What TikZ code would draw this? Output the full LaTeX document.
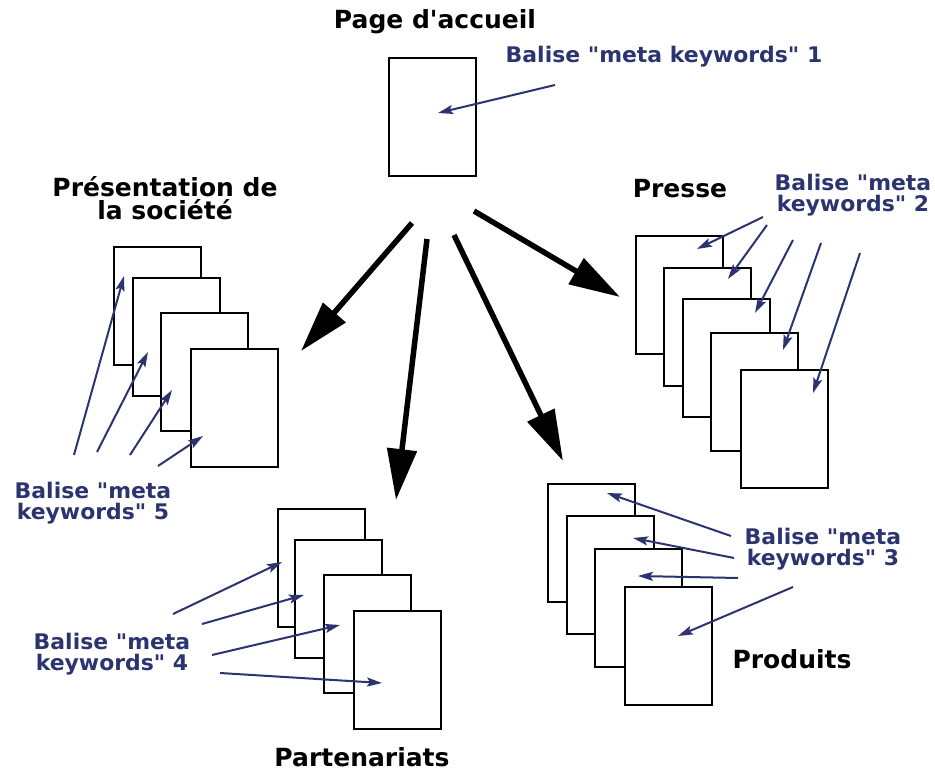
\documentclass[tikz,border=0pt]{standalone}
\usepackage{fontspec}
\setmainfont{DejaVu Sans}
\newfontfamily\titlefont{DejaVu Sans}
\newfontfamily\tagfont{DejaVu Sans}[FakeStretch=1.02]
\usetikzlibrary{arrows.meta}
\definecolor{tagblue}{RGB}{44,52,112}

\tikzset{
  page/.style={draw=black, fill=white, line width=1.8pt, minimum width=87pt,
    minimum height=118pt, inner sep=0pt, anchor=north west},
  heading/.style={font=\titlefont\bfseries\fontsize{25}{23.5}\selectfont,
    text=black, align=center, inner sep=0pt},
  tagtext/.style={font=\tagfont\bfseries\fontsize{21.5}{20.5}\selectfont,
    text=tagblue, align=center, inner sep=0pt},
  bigarrow/.style={line width=5.5pt, -{Triangle[length=51pt,width=29pt]}},
  tagarrow/.style={draw=tagblue, line width=2pt,
    -{Stealth[length=15pt,width=9pt,inset=3pt]}}
}

\begin{document}
\begin{tikzpicture}[x=1pt,y=-1pt]
\useasboundingbox[fill=white] (0,0) rectangle (935,773);

% home page
\node[heading] (homeTitle) at (435,22) {Page d'accueil};
\node[page] (home) at (388,57) {};
\node[tagtext] (tag1) at (664,57) {Balise "meta keywords" 1};

% company presentation
\node[heading] (socTitle) at (165,198) {Présentation de\\la société};
\node[page] (soc1) at (113,246) {};
\node[page] (soc2) at (132,277) {};
\node[page] (soc3) at (160,312) {};
\node[page] (soc4) at (190,348) {};
\node[tagtext] (tag5) at (93,503) {Balise "meta\\keywords" 5};

% press
\node[heading] (pressTitle) at (680,189) {Presse};
\node[page] (press1) at (635,235) {};
\node[page] (press2) at (663,267) {};
\node[page] (press3) at (682,298) {};
\node[page] (press4) at (710,332) {};
\node[page] (press5) at (740,369) {};
\node[tagtext] (tag2) at (853,195) {Balise "meta\\keywords" 2};

% partnerships
\node[page] (part1) at (277,508) {};
\node[page] (part2) at (294,539) {};
\node[page] (part3) at (323,574) {};
\node[page] (part4) at (353,610) {};
\node[heading] (partTitle) at (362,757) {Partenariats};
\node[tagtext] (tag4) at (112,654) {Balise "meta\\keywords" 4};

% products
\node[page] (prod1) at (547,483) {};
\node[page] (prod2) at (566,515) {};
\node[page] (prod3) at (594,548) {};
\node[page] (prod4) at (624,586) {};
\node[heading] (prodTitle) at (792,659) {Produits};
\node[tagtext] (tag3) at (823,549) {Balise "meta\\keywords" 3};

% navigation from the home page
\coordinate (toSocS) at (412,223);  \coordinate (toSocE) at (301,351);
\coordinate (toPartS) at (427,239); \coordinate (toPartE) at (396,500);
\coordinate (toProdS) at (454,235); \coordinate (toProdE) at (563,461);
\coordinate (toPressS) at (474,211); \coordinate (toPressE) at (620,297);
\draw[bigarrow] (toSocS) -- (toSocE);
\draw[bigarrow] (toPartS) -- (toPartE);
\draw[bigarrow] (toProdS) -- (toProdE);
\draw[bigarrow] (toPressS) -- (toPressE);

% keyword tag arrows: start near the tag, end inside a page
\coordinate (h1S) at (555,85);  \coordinate (h1E) at (438,113);
\coordinate (p1S) at (763,217); \coordinate (p1E) at (697,249);
\coordinate (p2S) at (767,225); \coordinate (p2E) at (728,279);
\coordinate (p3S) at (793,240); \coordinate (p3E) at (755,313);
\coordinate (p4S) at (821,243); \coordinate (p4E) at (783,350);
\coordinate (p5S) at (860,253); \coordinate (p5E) at (813,393);
\coordinate (d1S) at (731,536); \coordinate (d1E) at (607,493);
\coordinate (d2S) at (734,558); \coordinate (d2E) at (633,538);
\coordinate (d3S) at (738,578); \coordinate (d3E) at (638,576);
\coordinate (d4S) at (793,587); \coordinate (d4E) at (678,636);
\coordinate (r1S) at (173,614); \coordinate (r1E) at (282,562);
\coordinate (r2S) at (202,624); \coordinate (r2E) at (304,595);
\coordinate (r3S) at (212,655); \coordinate (r3E) at (340,625);
\coordinate (r4S) at (220,673); \coordinate (r4E) at (382,683);
\coordinate (s1S) at (74,455);  \coordinate (s1E) at (124,276);
\coordinate (s2S) at (97,452);  \coordinate (s2E) at (148,352);
\coordinate (s3S) at (130,455); \coordinate (s3E) at (172,390);
\coordinate (s4S) at (158,466); \coordinate (s4E) at (203,436);

\foreach \k in {h1,p1,p2,p3,p4,p5,d1,d2,d3,d4,r1,r2,r3,r4,s1,s2,s3,s4}
  \draw[tagarrow] (\k S) -- (\k E);
\end{tikzpicture}
\end{document}
